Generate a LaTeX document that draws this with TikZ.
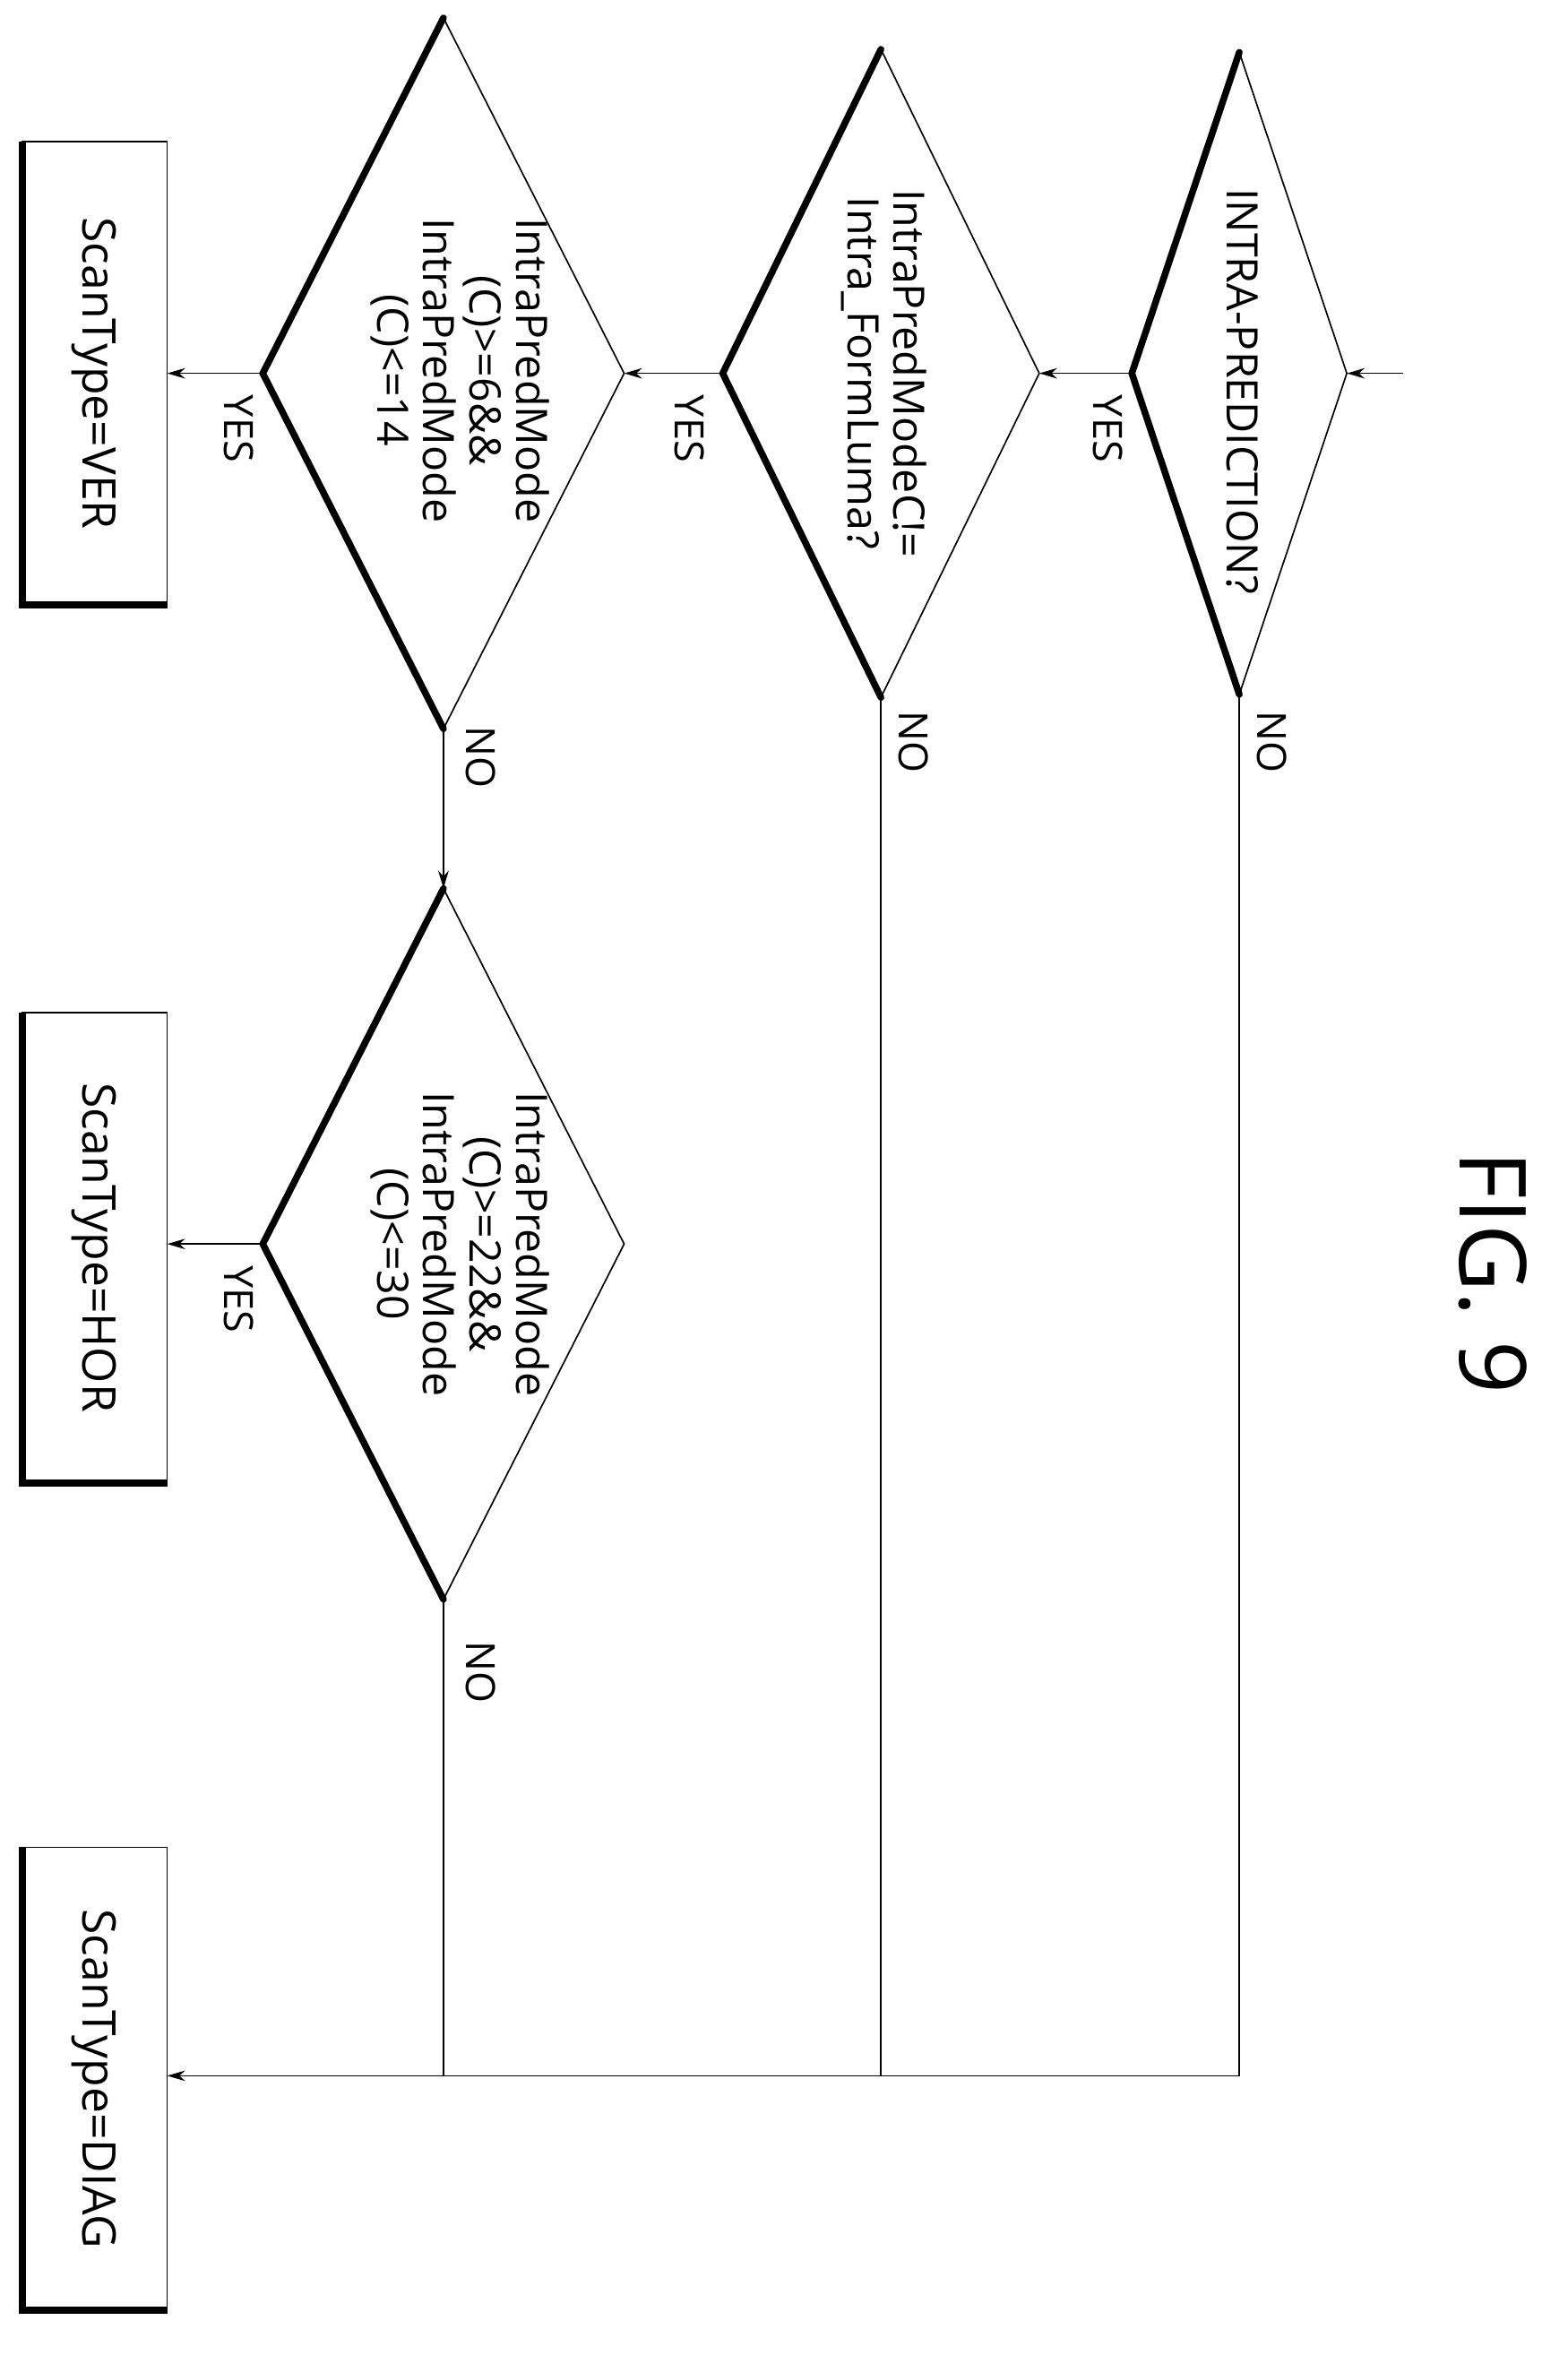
\documentclass[tikz,border=0pt]{standalone}
\usepackage{fontspec}
\setmainfont{Open Sans}
\usetikzlibrary{arrows.meta}
\begin{document}
\begin{tikzpicture}[x=1pt,y=-1pt,
  thin/.style={line width=1pt},
  thick/.style={line width=4.5pt},
  arr/.style={line width=1pt,-{Stealth[length=12pt,width=7pt]}},
  txt/.style={rotate=-90,align=center,font=\fontsize{29}{31}\selectfont},
  btxt/.style={rotate=-90,align=center,font=\fontsize{31}{34}\selectfont},
  lab/.style={rotate=-90,font=\fontsize{27}{29}\selectfont}]
\useasboundingbox (0,0) rectangle (1050,1577);
% diamonds
\foreach \n/\cx/\cy/\h/\w in {d1/830/250/215/72, d2/590/250/217/106, d3/297/250/238/121, d4/297/833/238/121}{
  \coordinate (\n t) at (\cx,\cy-\h);
  \coordinate (\n r) at (\cx+\w,\cy);
  \coordinate (\n b) at (\cx,\cy+\h);
  \coordinate (\n l) at (\cx-\w,\cy);
  \draw[thin] (\n t) -- (\n r) -- (\n b);
  \draw[thick,line cap=round,line join=miter] (\n t) -- (\n l) -- (\n b);
}
\node[txt] at (832,262) {INTRA-PREDICTION?};
\node[txt] at (592,250) {IntraPredModeC!=\\Intra\_FormLuma?};
\node[txt] at (308,248) {IntraPredMode\\(C)>=6\&\&\\IntraPredMode\\(C)<=14};
\node[txt] at (308,833) {IntraPredMode\\(C)>=22\&\&\\IntraPredMode\\(C)<=30};
% boxes
\foreach \n/\ya/\yb/\t in {bv/95/405/VER, bh/678/993/HOR, bd/1237/1547/DIAG}{
  \draw[thin] (15,\ya) rectangle (112,\yb);
  \draw[thick] (15,\ya) -- (15,\yb) -- (112,\yb);
  \node[btxt] (\n) at (63,{(\ya+\yb)/2}) {ScanType=\t};
}
\coordinate (in) at (940,250);
\draw[arr] (in) -- (d1r);
\draw[arr] (d1l) -- (d2r);
\draw[arr] (d2l) -- (d3r);
\draw[arr] (d3l) -- (112,250);
\draw[arr] (d3b) -- (d4t);
\draw[arr] (d4l) -- (112,833);
\coordinate (j1) at (830,1390);
\draw[arr] (d1b) -- (j1) -- (112,1390);
\draw[thin] (d2b) -- (590,1390);
\draw[thin] (d4b) -- (297,1390);
\node[lab] at (742,287) {YES};
\node[lab] at (462,287) {YES};
\node[lab] at (160,287) {YES};
\node[lab] at (160,870) {YES};
\node[lab] at (852,497) {NO};
\node[lab] at (612,497) {NO};
\node[lab] at (322,507) {NO};
\node[lab] at (322,1120) {NO};
\node[rotate=-90,font=\fontsize{62}{66}\selectfont] at (1000,852) {FIG. 9};
\end{tikzpicture}
\end{document}
